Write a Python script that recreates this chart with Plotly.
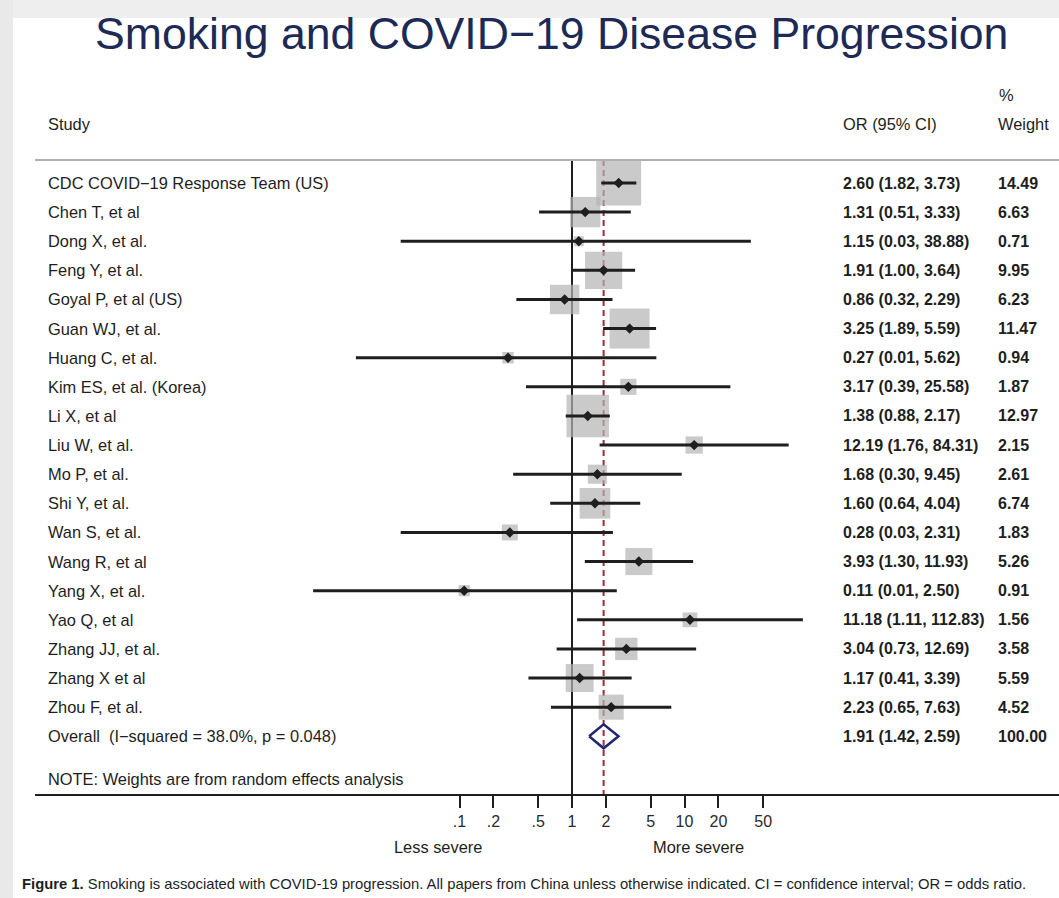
import math
import plotly.graph_objects as go

# ---------------- data ----------------
studies = [
    "CDC COVID\u221219 Response Team (US)", "Chen T, et al", "Dong X, et al.", "Feng Y, et al.",
    "Goyal P, et al (US)", "Guan WJ, et al.", "Huang C, et al.", "Kim ES, et al. (Korea)",
    "Li X, et al", "Liu W, et al.", "Mo P, et al.", "Shi Y, et al.", "Wan S, et al.",
    "Wang R, et al", "Yang X, et al.", "Yao Q, et al", "Zhang JJ, et al.", "Zhang X et al",
    "Zhou F, et al.",
]
odds_ratio = [2.60, 1.31, 1.15, 1.91, 0.86, 3.25, 0.27, 3.17, 1.38, 12.19, 1.68, 1.60, 0.28,
              3.93, 0.11, 11.18, 3.04, 1.17, 2.23]
ci_low = [1.82, 0.51, 0.03, 1.00, 0.32, 1.89, 0.012, 0.39, 0.88, 1.76, 0.30, 0.64, 0.03,
          1.30, 0.005, 1.11, 0.73, 0.41, 0.65]
ci_high = [3.73, 3.33, 38.88, 3.64, 2.29, 5.59, 5.62, 25.58, 2.17, 84.31, 9.45, 4.04, 2.31,
           11.93, 2.50, 112.83, 12.69, 3.39, 7.63]
weights = [14.49, 6.63, 0.71, 9.95, 6.23, 11.47, 0.94, 1.87, 12.97, 2.15, 2.61, 6.74, 1.83,
           5.26, 0.91, 1.56, 3.58, 5.59, 4.52]

overall_label = "Overall  (I\u2212squared = 38.0%, p = 0.048)"
overall_or = 1.91
overall_low = 1.42
overall_high = 2.59
overall_weight = 100.00

tick_values = [0.1, 0.2, 0.5, 1, 2, 5, 10, 20, 50]
tick_labels = [".1", ".2", ".5", "1", "2", "5", "10", "20", "50"]

# ---------------- layout geometry ----------------
W, H = 1059, 898
PLOT_TOP, PLOT_BOT = 160, 795
ROW0_PX, ROW_STEP = 183, 29.12
X_ONE_PX, DECADE_PX = 572, 112.5

def xp(px):
    return px / W

def yp(py):
    return (PLOT_BOT - py) / (PLOT_BOT - PLOT_TOP)

y_top = -(ROW0_PX - PLOT_TOP) / ROW_STEP
y_bot = (PLOT_BOT - ROW0_PX) / ROW_STEP

FONT = "Liberation Sans, Arial, Helvetica, sans-serif"
DARK = "#1e1e1e"
TXT = 16.4

n = len(studies)
rows = list(range(n))
overall_row = n

fig = go.Figure()

# reference lines
fig.add_trace(go.Scatter(x=[1, 1], y=[y_top, y_bot], mode="lines",
                         line=dict(color=DARK, width=2), hoverinfo="skip", showlegend=False))
fig.add_trace(go.Scatter(x=[overall_or, overall_or], y=[y_top, y_bot], mode="lines",
                         line=dict(color="#a02a38", width=2, dash="6px,4px"),
                         hoverinfo="skip", showlegend=False))

# weight squares
fig.add_trace(go.Scatter(
    x=odds_ratio, y=rows, mode="markers",
    marker=dict(symbol="square", size=[11.8 * math.sqrt(w) for w in weights],
                color="#b4b4b4", line=dict(width=0)),
    hoverinfo="skip", showlegend=False))

# CI lines
cx, cy = [], []
for lo, hi, r in zip(ci_low, ci_high, rows):
    cx += [lo, hi, None]
    cy += [r, r, None]
fig.add_trace(go.Scatter(x=cx, y=cy, mode="lines", line=dict(color=DARK, width=3),
                         hoverinfo="skip", showlegend=False))

# point estimates
fig.add_trace(go.Scatter(x=odds_ratio, y=rows, mode="markers",
                         marker=dict(symbol="diamond", size=8, color=DARK, line=dict(width=0)),
                         hoverinfo="skip", showlegend=False))

# overall diamond
dh = 12 / ROW_STEP
fig.add_trace(go.Scatter(
    x=[overall_low, overall_or, overall_high, overall_or, overall_low],
    y=[overall_row, overall_row - dh, overall_row, overall_row + dh, overall_row],
    mode="lines", line=dict(color="#22266e", width=2.5),
    hoverinfo="skip", showlegend=False))

ann = []
def text(x, y, s, size=TXT, yref="paper", xanchor="left", color=DARK, bold=False):
    ann.append(dict(x=x, y=y, xref="paper", yref=yref, text=s, showarrow=False,
                    xanchor=xanchor, yanchor="middle",
                    font=dict(family=FONT, size=size, color=color,
                              weight="bold" if bold else "normal")))

# title
text(xp(551), yp(33), "Smoking and COVID\u221219 Disease Progression", size=44.6,
     xanchor="center", color="#1d2a55")

# headers
text(xp(46), yp(124), "Study")
text(xp(841), yp(124), "OR (95% CI)")
text(xp(997), yp(95), "%")
text(xp(996), yp(124), "Weight")

for r, s, o, lo, hi, w in zip(rows, studies, odds_ratio, ci_low, ci_high, weights):
    text(xp(46), r, s, yref="y")
    text(xp(841), r, f"{o:.2f} ({lo:.2f}, {hi:.2f})", yref="y", bold=True, size=16)
    text(xp(996), r, f"{w:.2f}", yref="y", bold=True, size=16)

text(xp(46), overall_row, overall_label, yref="y")
text(xp(841), overall_row, f"{overall_or:.2f} ({overall_low:.2f}, {overall_high:.2f})",
     yref="y", bold=True, size=16)
text(xp(996), overall_row, f"{overall_weight:.2f}", yref="y", bold=True, size=16)

text(xp(46), yp(779), "NOTE: Weights are from random effects analysis")
text(xp(438), yp(847), "Less severe", xanchor="center")
text(xp(698), yp(847), "More severe", xanchor="center")
text(xp(20), yp(884),
     "<b>Figure 1.</b> Smoking is associated with COVID-19 progression. All papers from China "
     "unless otherwise indicated. CI = confidence interval; OR = odds ratio.", size=14.8)

shapes = [
    dict(type="rect", xref="paper", yref="paper", x0=0, x1=xp(W), y0=yp(0), y1=yp(18),
         fillcolor="#eeeeee", line=dict(width=0), layer="below"),
    dict(type="rect", xref="paper", yref="paper", x0=0, x1=xp(13), y0=yp(H), y1=yp(0),
         fillcolor="#e9e9e9", line=dict(width=0), layer="below"),
    dict(type="line", xref="paper", yref="paper", x0=xp(35), x1=xp(W), y0=yp(PLOT_TOP),
         y1=yp(PLOT_TOP), line=dict(color="#b0b0b0", width=2)),
    dict(type="line", xref="paper", yref="paper", x0=xp(35), x1=xp(W), y0=yp(PLOT_BOT),
         y1=yp(PLOT_BOT), line=dict(color=DARK, width=2)),
]

fig.update_layout(
    width=W, height=H,
    margin=dict(l=0, r=0, t=PLOT_TOP, b=H - PLOT_BOT, pad=0),
    paper_bgcolor="white", plot_bgcolor="white",
    annotations=ann, shapes=shapes,
    xaxis=dict(type="log", range=[-X_ONE_PX / DECADE_PX, (W - X_ONE_PX) / DECADE_PX],
               tickvals=tick_values, ticktext=tick_labels, ticks="outside", ticklen=12,
               tickwidth=2, tickcolor=DARK, showgrid=False, zeroline=False, showline=False,
               tickfont=dict(family=FONT, size=16, color="#2a2a2a"), fixedrange=True),
    yaxis=dict(range=[y_bot, y_top], visible=False, showgrid=False, zeroline=False,
               fixedrange=True),
)

fig.write_html(
    "out.html",
    config={"displayModeBar": False, "staticPlot": True},
    post_script="document.body.style.margin='0';document.body.style.overflow='hidden';",
)
